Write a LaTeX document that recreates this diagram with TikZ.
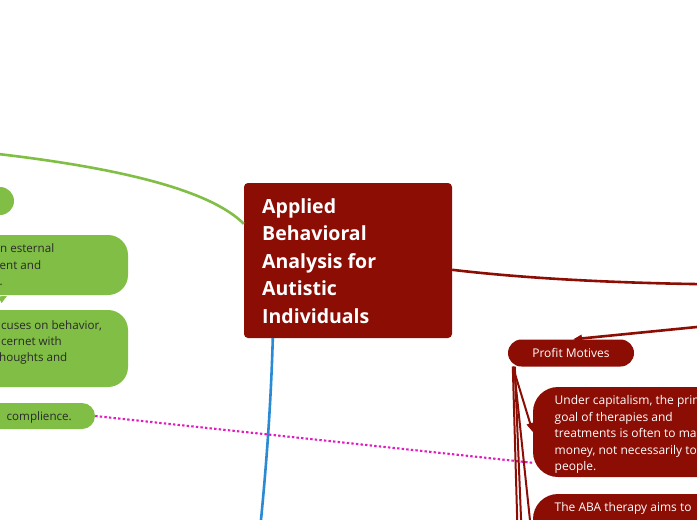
\documentclass[tikz,border=0pt]{standalone}
\usepackage{fontspec}
\setmainfont{Open Sans}
\usetikzlibrary{arrows.meta,calc}
\definecolor{abared}{HTML}{8B0D04}
\definecolor{abagreen}{HTML}{80BE45}
\definecolor{abablue}{HTML}{2A8BD4}
\definecolor{abamag}{HTML}{E01CC0}
\definecolor{abatext}{HTML}{2A2A2A}
\begin{document}
\begin{tikzpicture}[x=1pt,y=-1pt,
  redbox/.style={fill=abared, draw=none, inner sep=0pt},
  greenbox/.style={fill=abagreen, draw=none, inner sep=0pt},
  roottxt/.style={text=white, font=\bfseries\fontsize{19.5}{23}\selectfont, inner sep=0pt, anchor=base west},
  redtxt/.style={text=white, font=\fontsize{12}{14}\selectfont, inner sep=0pt, anchor=base west},
  greentxt/.style={text=abatext, font=\fontsize{11.6}{14}\selectfont, inner sep=0pt, anchor=base west},
  redline/.style={draw=abared, line width=2.6pt},
  redthin/.style={draw=abared, line width=2pt},
  greenline/.style={draw=abagreen, line width=2.6pt},
  blueline/.style={draw=abablue, line width=2.6pt},
  magline/.style={draw=abamag, line width=2.1pt, dash pattern=on 2.4pt off 2.2pt},
  tip/.style={-{Triangle[length=9pt,width=7pt]}}
]
\useasboundingbox (0,0) rectangle (697,520);
\fill[white] (0,0) rectangle (697,520);
\clip (0,0) rectangle (697,520);

% offscreen anchors
\coordinate (gOff) at (-6,153.5);
\coordinate (rOff1) at (705,284.2);
\coordinate (rOff2) at (710,325.7);
\coordinate (bOff) at (260,530);
\coordinate (pA) at (517.5,530);
\coordinate (pB) at (521.5,530);
\coordinate (gSrc) at (-16,308);
\coordinate (gTgt) at (7,296);

% nodes (boxes)
\node[redbox, rounded corners=4pt, minimum width=208pt, minimum height=155pt] (root) at (348,260.5) {};
\node[greenbox, rounded corners=14pt, minimum width=100pt, minimum height=28pt] (g1) at (-36,201) {};
\node[greenbox, rounded corners=20pt, minimum width=228pt, minimum height=60pt] (g2) at (14,265) {};
\node[greenbox, rounded corners=20pt, minimum width=228pt, minimum height=77pt] (g3) at (14,348.5) {};
\node[greenbox, rounded corners=13pt, minimum width=155pt, minimum height=26pt] (g4) at (17.5,416) {};
\node[redbox, rounded corners=13.5pt, minimum width=126pt, minimum height=27pt] (pm) at (571,353) {};
\node[redbox, rounded corners=25pt, minimum width=267pt, minimum height=90pt] (uc) at (666.5,432) {};
\node[redbox, rounded corners=25pt, minimum width=267pt, minimum height=106pt] (aba) at (666.5,547) {};

% connectors
\draw[greenline] (gOff) .. controls (120,168) and (210,190) .. ($(root.north west)+(0,41)$);
\draw[redline] ($(root.north east)+(0,87)$) .. controls (530,279) and (620,283) .. (rOff1);
\draw[redline, tip] (rOff2) -- ($(pm.north)+(2,0)$);
\draw[blueline] ($(root.south west)+(29,0)$) .. controls (271,400) and (267,460) .. (bOff);
\draw[magline] (g4.east) -- ($(uc.north west)+(0,76)$);
\coordinate (pmS) at ($(pm.south west)+(5,0)$);
\draw[redthin, tip] (pmS) -- (uc.west);
\draw[redthin] (pmS) -- (pA);
\draw[redthin] ($(pmS)+(2,0)$) -- (pB);
\draw[redthin, tip] ($(pmS)+(1,0)$) -- (aba.west);
\draw[draw=abagreen, line width=1.8pt, -{Triangle[length=8pt,width=7pt]}] (gSrc) -- (gTgt);

% texts
\foreach \t [count=\i] in {Applied, Behavioral, Analysis for, Autistic, Individuals}
  \node[roottxt] (rootl\i) at (262, 213.3+27.5*\i-27.5) {\t};

\node[greentxt] (g2l1) at (0,252.7) {n esternal};
\node[greentxt] (g2l2) at (-0.5,269) {ent and};
\node[greentxt] (g2l3) at (-0.5,285.3) {.};
\node[greentxt] (g3l1) at (1,329) {cuses on behavior,};
\node[greentxt] (g3l2) at (1,345.3) {cernet with};
\node[greentxt] (g3l3) at (-1,361.6) {houghts and};
\node[greentxt] (g4l1) at (6.5,420.7) {complience.};

\node[redtxt, anchor=base] (pmt) at (571,357.3) {Profit Motives};
\node[redtxt] (ucl1) at (554.5,404.8) {Under capitalism, the prim};
\node[redtxt] (ucl2) at (554.5,421.2) {goal of therapies and};
\node[redtxt] (ucl3) at (554.5,437.6) {treatments is often to ma};
\node[redtxt] (ucl4) at (554.5,454) {money, not necessarily to};
\node[redtxt] (ucl5) at (554.5,470.4) {people.};
\node[redtxt] (abal1) at (554.5,511.8) {The ABA therapy aims to};
\end{tikzpicture}
\end{document}
